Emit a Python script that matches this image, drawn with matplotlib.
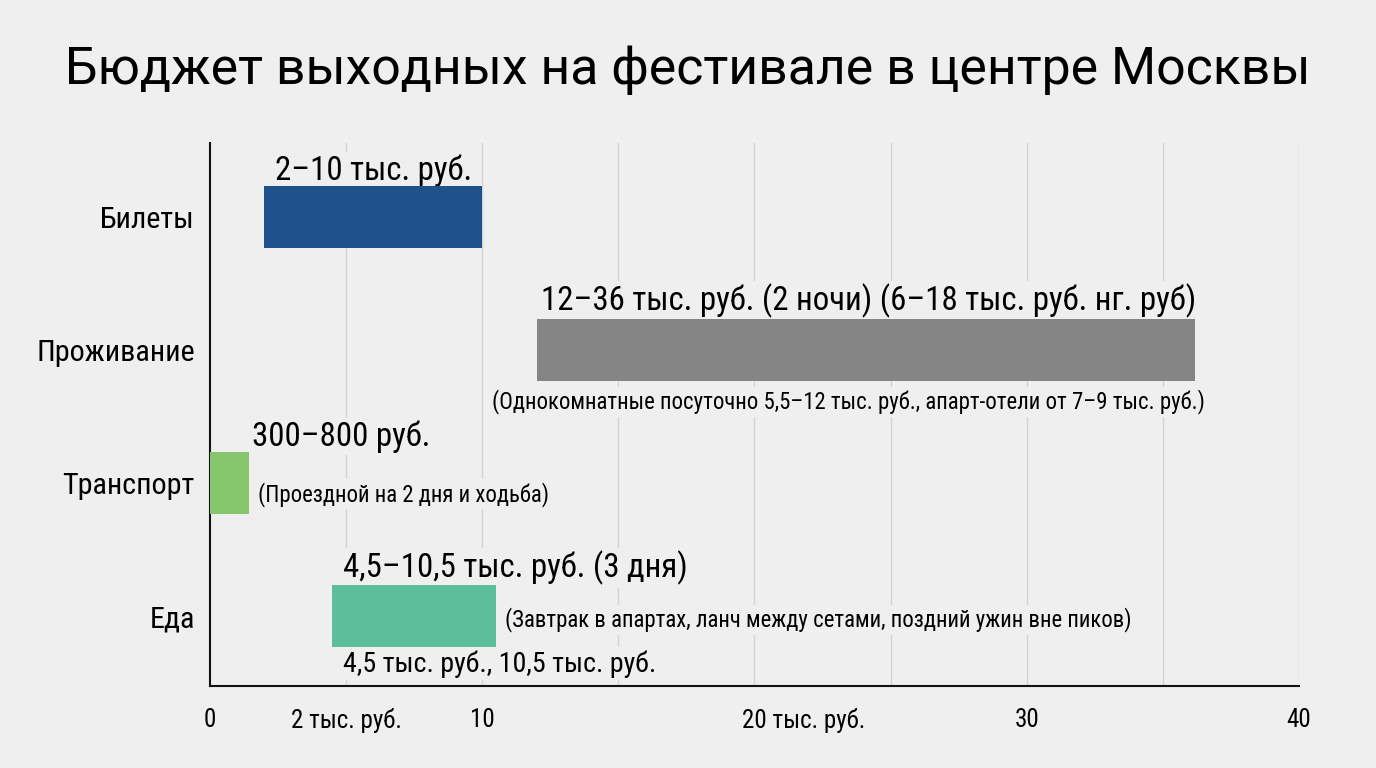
import matplotlib
matplotlib.use('Agg')
import matplotlib.pyplot as plt
from matplotlib import font_manager

# pick a narrow face if one is installed
names = {f.name for f in font_manager.fontManager.ttflist}
narrow = 'Roboto'
for cand in ['Roboto Condensed', 'Liberation Sans Narrow', 'DejaVu Sans Condensed']:
    if cand in names:
        narrow = cand
        break

categories = ['Билеты', 'Проживание', 'Транспорт', 'Еда']
low = [2.0, 12.0, 0.0, 4.5]
high = [10.0, 36.2, 1.45, 10.5]
colors = ['#1f528c', '#858585', '#86c66c', '#5bbf9c']

range_labels = ['2–10 тыс. руб.',
                '12–36 тыс. руб. (2 ночи) (6–18 тыс. руб. нг. руб)',
                '300–800 руб.',
                '4,5–10,5 тыс. руб. (3 дня)']
notes = ['',
         '(Однокомнатные посуточно 5,5–12 тыс. руб., апарт-отели от 7–9 тыс. руб.)',
         '(Проездной на 2 дня и ходьба)',
         '(Завтрак в апартах, ланч между сетами, поздний ужин вне пиков)']
food_bounds = '4,5 тыс. руб., 10,5 тыс. руб.'

tick_pos = [0, 5, 10, 21.8, 30, 40]
tick_labels = ['0', '2 тыс. руб.', '10', '20 тыс. руб.', '30', '40']

bg = '#efefef'
fig = plt.figure(figsize=(13.76, 7.68), dpi=100, facecolor=bg)
ax = fig.add_axes([0.1526, 0.1068, 0.7914, 0.707])
ax.set_facecolor(bg)

for x in range(5, 41, 5):
    ax.axvline(x, color='#d2d2d2', lw=1, zorder=0)

ys = list(range(len(categories)))
ax.barh(ys, [h - l for l, h in zip(low, high)], left=low, height=0.46,
        color=colors, zorder=3)

box = dict(facecolor=bg, edgecolor='none', pad=2)
# label placement: (x, ha, dy)
label_pos = [(6.0, 'center', -0.35), (24.2, 'center', -0.37),
             (1.54, 'left', -0.35), (4.9, 'left', -0.36)]
for i, (txt, (x, ha, dy)) in enumerate(zip(range_labels, label_pos)):
    ax.text(x, i + dy, txt, ha=ha, va='center', fontsize=23.7,
            family=narrow, bbox=box, zorder=2)

note_pos = [None, (23.45, 'center', 0.39), (1.76, 'left', 0.083),
            (10.85, 'left', 0.03)]
for i, (txt, p) in enumerate(zip(notes, note_pos)):
    if not txt:
        continue
    x, ha, dy = p
    ax.text(x, i + dy, txt, ha=ha, va='center', fontsize=16.4,
            family=narrow, bbox=box, zorder=2)

ax.text(4.9, 3 + 0.36, food_bounds, ha='left', va='center', fontsize=20.2,
        family=narrow, bbox=box, zorder=2)

ax.set_xlim(0, 40)
ax.set_ylim(3.526, -0.556)
ax.set_yticks(ys)
ax.set_yticklabels(categories, fontsize=21.7, family=narrow)
ax.set_xticks(tick_pos)
ax.set_xticklabels(tick_labels, fontsize=18, family=narrow)
ax.tick_params(axis='both', length=0)
ax.tick_params(axis='y', pad=11)
ax.tick_params(axis='x', pad=16)
for s in ['top', 'right']:
    ax.spines[s].set_visible(False)
ax.spines['left'].set_color('#111111')
ax.spines['bottom'].set_color('#111111')
ax.spines['left'].set_linewidth(1.5)
ax.spines['bottom'].set_linewidth(1.5)

fig.text(0.5, 0.909, 'Бюджет выходных на фестивале в центре Москвы',
         ha='center', va='center', fontsize=37.3, family='Roboto')

fig.savefig('out.png', dpi=100, facecolor=bg)
